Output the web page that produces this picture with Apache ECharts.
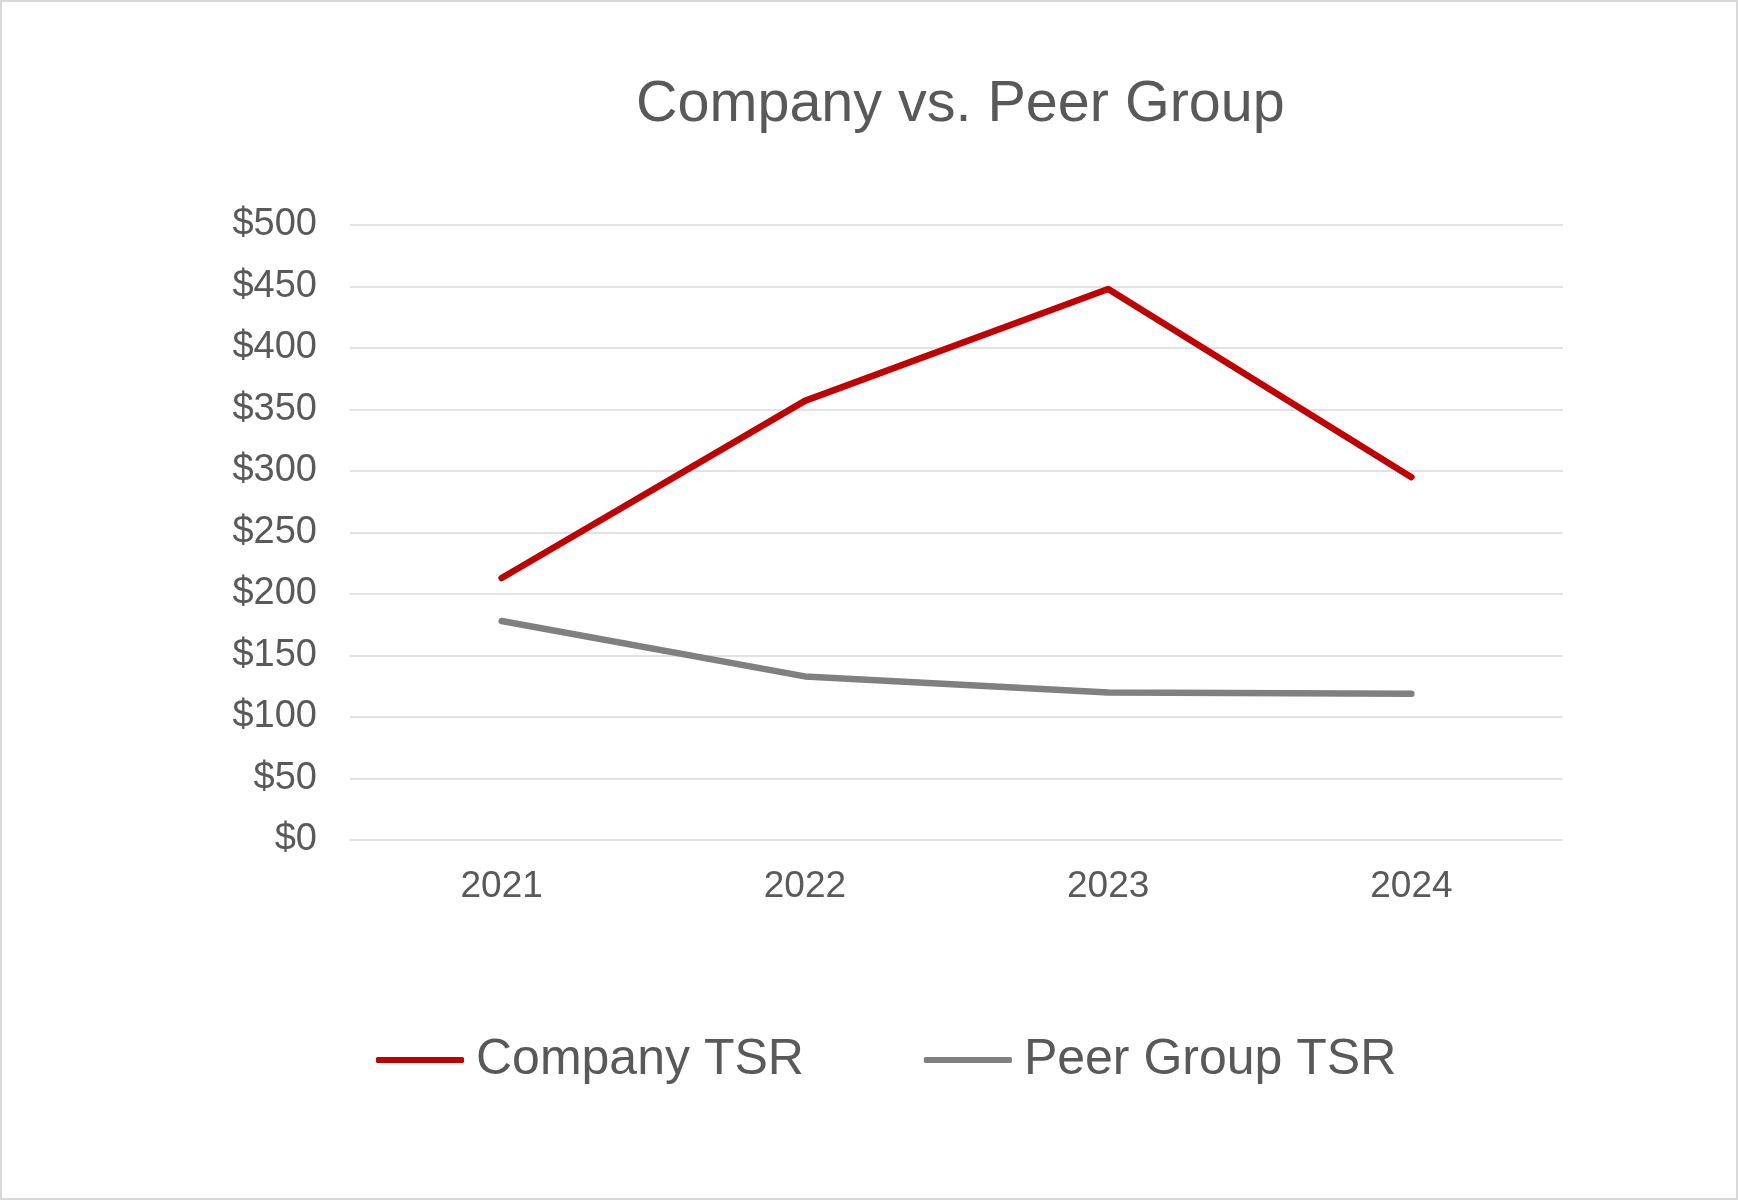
<!DOCTYPE html>
<html>
<head>
<meta charset="utf-8">
<script src="https://cdn.jsdelivr.net/npm/echarts@6/dist/echarts.min.js"></script>
<style>
html,body{margin:0;padding:0;background:#fff;}
#wrap{position:relative;width:1738px;height:1200px;}
#chart{width:1738px;height:1200px;}
#frame{position:absolute;left:0;top:0;width:1738px;height:1200px;box-sizing:border-box;border:2px solid #d9d9d9;pointer-events:none;}
</style>
</head>
<body>
<div id="wrap"><div id="chart"></div><div id="frame"></div></div>
<script>
const categories = ['2021', '2022', '2023', '2024'];
const companyTSR = [213, 357, 448, 295];
const peerTSR = [178, 133, 120, 119];
const seriesNames = ['Company TSR', 'Peer Group TSR'];

const chart = echarts.init(document.getElementById('chart'), null, {renderer: 'canvas'});
const FONT = '"Liberation Sans", Arial, sans-serif';
chart.setOption({
  animation: false,
  backgroundColor: '#fff',
  title: {
    text: 'Company vs. Peer Group',
    left: 631,
    top: 71,
    textStyle: {fontFamily: FONT, fontSize: 57.5, fontWeight: 'normal', color: '#595959'}
  },
  legend: {
    bottom: 110,
    left: 371,
    itemWidth: 88,
    itemHeight: 6,
    itemGap: 120,
    icon: 'roundRect',
    textStyle: {fontFamily: FONT, fontSize: 50, color: '#595959', padding: [0, 0, 0, 7]},
    data: seriesNames
  },
  grid: {left: 350, right: 175, top: 225, bottom: 360, containLabel: false},
  xAxis: {
    type: 'category',
    data: categories,
    boundaryGap: true,
    axisLine: {show: false},
    axisTick: {show: false},
    axisLabel: {fontFamily: FONT, fontSize: 37, color: '#595959', margin: 28}
  },
  yAxis: {
    type: 'value',
    min: 0,
    max: 500,
    interval: 50,
    axisLine: {show: false},
    axisTick: {show: false},
    splitLine: {lineStyle: {color: '#d9d9d9', width: 1.5}},
    axisLabel: {fontFamily: FONT, fontSize: 38, color: '#595959', margin: 33, padding: [10, 0, 0, 0], formatter: v => '$' + v}
  },
  series: [
    {name: seriesNames[0], type: 'line', data: companyTSR, symbol: 'none',
     lineStyle: {color: '#c00000', width: 6.5, cap: 'round', join: 'round'}, itemStyle: {color: '#c00000'}},
    {name: seriesNames[1], type: 'line', data: peerTSR, symbol: 'none',
     lineStyle: {color: '#808080', width: 6.5, cap: 'round', join: 'round'}, itemStyle: {color: '#808080'}}
  ]
});
</script>
</body>
</html>
